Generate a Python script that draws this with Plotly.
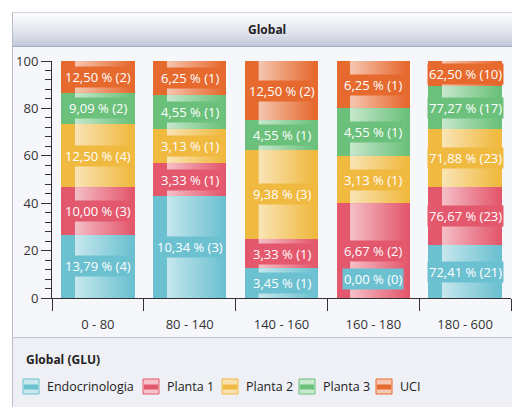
from decimal import Decimal, ROUND_HALF_UP
import plotly.graph_objects as go

# ---- data -------------------------------------------------------------
categories = ["0 - 80", "80 - 140", "140 - 160", "160 - 180", "180 - 600"]
series_names = ["Endocrinologia", "Planta 1", "Planta 2", "Planta 3", "UCI"]
endocrinologia = [4, 3, 1, 0, 21]
planta_1 = [3, 1, 1, 2, 23]
planta_2 = [4, 1, 3, 1, 23]
planta_3 = [2, 1, 1, 1, 17]
uci = [2, 1, 2, 1, 10]
series_counts = [endocrinologia, planta_1, planta_2, planta_3, uci]
y_ticks = [0, 20, 40, 60, 80, 100]

colors = ["#6cc1d1", "#e4586d", "#f0b93f", "#6bc17b", "#e6692e"]
tints = ["#c9e9ef", "#f5c3cb", "#f9e2b0", "#c9e9cf", "#f5c8b2"]

FONT = "Open Sans"
FS = 13
W, H = 512, 407
L, R, T, B = 52, 511, 61, 298          # plot area in pixels


def px(x):
    return (x - L) / (R - L)


def py(y):
    return (B - y) / (B - T)


def pct_label(count, total):
    v = (Decimal(count) * 100 / Decimal(total)).quantize(Decimal("0.01"), ROUND_HALF_UP)
    return f"{v}".replace(".", ",") + f" % ({count})"


n_cat = len(categories)
xpos = list(range(n_cat))
bar_totals = [sum(s[i] for s in series_counts) for i in range(n_cat)]
series_totals = [sum(s) for s in series_counts]
shares = [[100.0 * s[i] / bar_totals[i] for i in range(n_cat)] for s in series_counts]

BAR_W = 0.8
fig = go.Figure()

# stacked columns (share of each range)
for name, share, col in zip(series_names, shares, colors):
    fig.add_trace(go.Bar(
        x=xpos, y=share, name=name, width=BAR_W,
        marker=dict(color=col, line=dict(width=0)),
        showlegend=False, hoverinfo="skip",
    ))

# glossy highlight over every segment
gloss = [[0.0, "rgba(255,255,255,0)"], [0.185, "rgba(255,255,255,0)"],
         [0.19, "rgba(255,255,255,0.62)"], [0.55, "rgba(255,255,255,0.32)"],
         [0.96, "rgba(255,255,255,0)"], [1.0, "rgba(255,255,255,0)"]]
annotations = []
for k, (share, counts, col) in enumerate(zip(shares, series_counts, colors)):
    for i in range(n_cat):
        base = sum(shares[j][i] for j in range(k))
        top = base + share[i]
        x0, x1 = i - BAR_W / 2, i + BAR_W / 2
        if share[i] > 0:
            fig.add_trace(go.Scatter(
                x=[x0, x1, x1, x0, x0], y=[base, base, top, top, base],
                fill="toself", mode="none", showlegend=False, hoverinfo="skip",
                fillgradient=dict(type="horizontal", colorscale=gloss, start=x0, stop=x1),
            ))
        label = dict(
            x=i, y=(base + top) / 2, xref="x", yref="y",
            text=pct_label(counts[i], series_totals[k]), showarrow=False,
            font=dict(family=FONT, size=FS, color="white"),
            bgcolor=col, borderpad=1,
        )
        if share[i] == 0:
            label.update(y=0, yanchor="bottom", yshift=8)
        annotations.append(label)

# ---- frame, header bar and legend panel ---------------------------------
shapes = [
    dict(type="rect", xref="paper", yref="paper", x0=px(12), x1=px(520),
         y0=py(410), y1=py(47), fillcolor="#f6f7fb", line=dict(width=0), layer="below"),
    dict(type="rect", xref="paper", yref="paper", x0=px(12), x1=px(520),
         y0=py(410), y1=py(337), fillcolor="#eef0f5", line=dict(width=0), layer="below"),
]

# header gradient built from thin bands
top_rgb, bot_rgb = (250, 251, 253), (196, 201, 219)
n_bands = 18
y_top, y_bot = 12.5, 46.5
for b in range(n_bands):
    t = b / (n_bands - 1)
    t = t ** 1.3
    rgb = tuple(round(top_rgb[c] + (bot_rgb[c] - top_rgb[c]) * t) for c in range(3))
    ya = y_top + (y_bot - y_top) * b / n_bands
    yb = y_top + (y_bot - y_top) * (b + 1) / n_bands
    shapes.append(dict(type="rect", xref="paper", yref="paper", x0=px(12), x1=px(520),
                       y0=py(yb + 0.3), y1=py(ya), fillcolor="rgb(%d,%d,%d)" % rgb,
                       line=dict(width=0), layer="below"))

border = "#b9bdca"
shapes += [
    dict(type="line", xref="paper", yref="paper", x0=px(12), x1=px(520), y0=py(12.5), y1=py(12.5),
         line=dict(color="#d3d6de", width=1)),
    dict(type="line", xref="paper", yref="paper", x0=px(12), x1=px(520), y0=py(46.5), y1=py(46.5),
         line=dict(color="#a7acbd", width=1)),
    dict(type="line", xref="paper", yref="paper", x0=px(12), x1=px(520), y0=py(337.5), y1=py(337.5),
         line=dict(color="#c2c6d1", width=1)),
    dict(type="line", xref="paper", yref="paper", x0=px(12.5), x1=px(12.5), y0=py(12), y1=py(410),
         line=dict(color=border, width=1)),
]

annotations.append(dict(
    x=px(267), y=py(29), xref="paper", yref="paper", text="<b>Global</b>", showarrow=False,
    font=dict(family=FONT, size=12, color="#222222"), xanchor="center", yanchor="middle",
))
annotations.append(dict(
    x=px(24), y=py(359), xref="paper", yref="paper", text="<b>Global (GLU)</b>", showarrow=False,
    font=dict(family=FONT, size=12, color="#222222"), xanchor="left", yanchor="middle",
))

# legend entries
icon_x = [23, 143, 222, 299, 376]
for name, col, tint, ix in zip(series_names, colors, tints, icon_x):
    shapes.append(dict(type="rect", xref="paper", yref="paper", x0=px(ix), x1=px(ix + 16),
                       y0=py(394), y1=py(379), fillcolor=tint, line=dict(color=col, width=1)))
    shapes.append(dict(type="rect", xref="paper", yref="paper", x0=px(ix + 1), x1=px(ix + 15),
                       y0=py(389.5), y1=py(384.5), fillcolor=col, line=dict(width=0)))
    annotations.append(dict(
        x=px(ix + 22), y=py(386.5), xref="paper", yref="paper", text=name, showarrow=False,
        font=dict(family=FONT, size=12.5, color="#222222"), xanchor="left", yanchor="middle",
    ))

axis_col = "#333333"
fig.update_layout(
    width=W, height=H,
    margin=dict(l=L, r=W - R, t=T, b=H - B, pad=0),
    barmode="stack", bargap=0.2,
    paper_bgcolor="white", plot_bgcolor="rgba(0,0,0,0)",
    font=dict(family=FONT, size=FS, color=axis_col),
    showlegend=False,
    shapes=shapes, annotations=annotations,
    xaxis=dict(
        range=[-0.5, n_cat - 0.5], tickmode="array", tickvals=xpos, ticktext=categories,
        ticks="", showgrid=False, zeroline=False, showline=True, linecolor=axis_col,
        ticklabelstandoff=14, tickfont=dict(family=FONT, size=FS, color=axis_col),
        minor=dict(tickmode="array", tickvals=[i - 0.5 for i in range(n_cat + 1)],
                   ticks="outside", ticklen=12, tickcolor=axis_col, showgrid=False),
    ),
    yaxis=dict(
        range=[0, 100], tickmode="array", tickvals=y_ticks, ticks="outside", ticklen=10,
        tickcolor=axis_col, showgrid=False, zeroline=False, showline=True, linecolor=axis_col,
        tickfont=dict(family=FONT, size=FS, color=axis_col),
        minor=dict(dtick=4, ticks="outside", ticklen=6, tickcolor=axis_col, showgrid=False),
    ),
)

fig.write_html("out.html")
